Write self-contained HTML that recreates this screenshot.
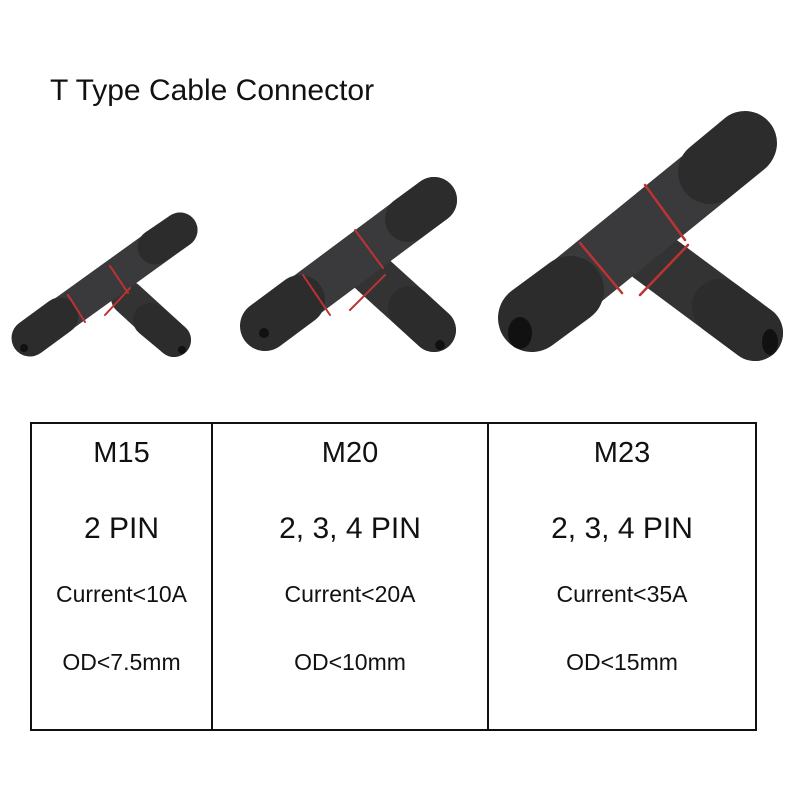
<!DOCTYPE html>
<html><head><style>
body{margin:0;background:#fff;width:800px;height:800px;position:relative;overflow:hidden;font-family:"Liberation Sans",Arial,sans-serif;color:#111}
.t{position:absolute;left:50px;top:74px;font-size:30px}
table{position:absolute;left:30px;top:422px;border-collapse:collapse;width:727px;height:309px}
td{border:2px solid #111;vertical-align:top;text-align:center;padding:0;line-height:1.15}
.a{font-size:29px;margin-top:13px}
.b{font-size:30px;margin-top:42px}
.c{font-size:23px;margin-top:34px}
.d{font-size:23px;margin-top:42px}
</style></head><body>
<div class="t">T Type Cable Connector</div>
<svg width="800" height="420" style="position:absolute;left:0;top:0">
<g stroke-linecap="round" fill="none">
<line x1="128" y1="298" x2="174" y2="340" stroke="#333" stroke-width="34"/>
<line x1="30" y1="338" x2="180" y2="230" stroke="#3a3a3c" stroke-width="35"/>
<line x1="30" y1="338" x2="60" y2="316" stroke="#2c2c2c" stroke-width="37"/>
<line x1="155" y1="247" x2="180" y2="230" stroke="#2c2c2c" stroke-width="35"/>
<line x1="150" y1="320" x2="174" y2="340" stroke="#2c2c2c" stroke-width="34"/>
<line x1="68" y1="295" x2="85" y2="322" stroke="#b33" stroke-width="2"/>
<line x1="110" y1="266" x2="128" y2="293" stroke="#b33" stroke-width="2"/>
<line x1="105" y1="315" x2="130" y2="288" stroke="#b33" stroke-width="2"/>
<line x1="370" y1="272" x2="434" y2="330" stroke="#333" stroke-width="44"/>
<line x1="265" y1="326" x2="434" y2="200" stroke="#3a3a3c" stroke-width="46"/>
<line x1="265" y1="326" x2="300" y2="300" stroke="#2c2c2c" stroke-width="50"/>
<line x1="408" y1="219" x2="434" y2="200" stroke="#2c2c2c" stroke-width="46"/>
<line x1="410" y1="308" x2="434" y2="330" stroke="#2c2c2c" stroke-width="44"/>
<line x1="303" y1="275" x2="330" y2="315" stroke="#b33" stroke-width="2"/>
<line x1="355" y1="230" x2="383" y2="268" stroke="#b33" stroke-width="2"/>
<line x1="350" y1="310" x2="385" y2="275" stroke="#b33" stroke-width="2"/>
<line x1="650" y1="255" x2="755" y2="333" stroke="#333" stroke-width="56"/>
<line x1="532" y1="318" x2="745" y2="145" stroke="#3a3a3c" stroke-width="62"/>
<line x1="532" y1="318" x2="570" y2="290" stroke="#2c2c2c" stroke-width="68"/>
<line x1="710" y1="172" x2="745" y2="143" stroke="#2c2c2c" stroke-width="64"/>
<line x1="720" y1="307" x2="755" y2="333" stroke="#2c2c2c" stroke-width="56"/>
<line x1="580" y1="243" x2="622" y2="293" stroke="#b33" stroke-width="2.5"/>
<line x1="645" y1="185" x2="685" y2="240" stroke="#b33" stroke-width="2.5"/>
<line x1="640" y1="295" x2="688" y2="245" stroke="#b33" stroke-width="2.5"/>
</g>
<ellipse cx="520" cy="333" rx="12" ry="16" fill="#111"/>
<ellipse cx="770" cy="342" rx="8" ry="13" fill="#111"/>
<circle cx="264" cy="333" r="5" fill="#111"/>
<circle cx="440" cy="345" r="5" fill="#111"/>
<circle cx="24" cy="348" r="4" fill="#111"/>
<circle cx="182" cy="350" r="4" fill="#111"/>
</svg>
<table><tr>
<td style="width:179px"><div class="a">M15</div><div class="b">2 PIN</div><div class="c">Current&lt;10A</div><div class="d">OD&lt;7.5mm</div></td>
<td style="width:274px"><div class="a">M20</div><div class="b">2, 3, 4 PIN</div><div class="c">Current&lt;20A</div><div class="d">OD&lt;10mm</div></td>
<td><div class="a">M23</div><div class="b">2, 3, 4 PIN</div><div class="c">Current&lt;35A</div><div class="d">OD&lt;15mm</div></td>
</tr></table>
</body></html>
